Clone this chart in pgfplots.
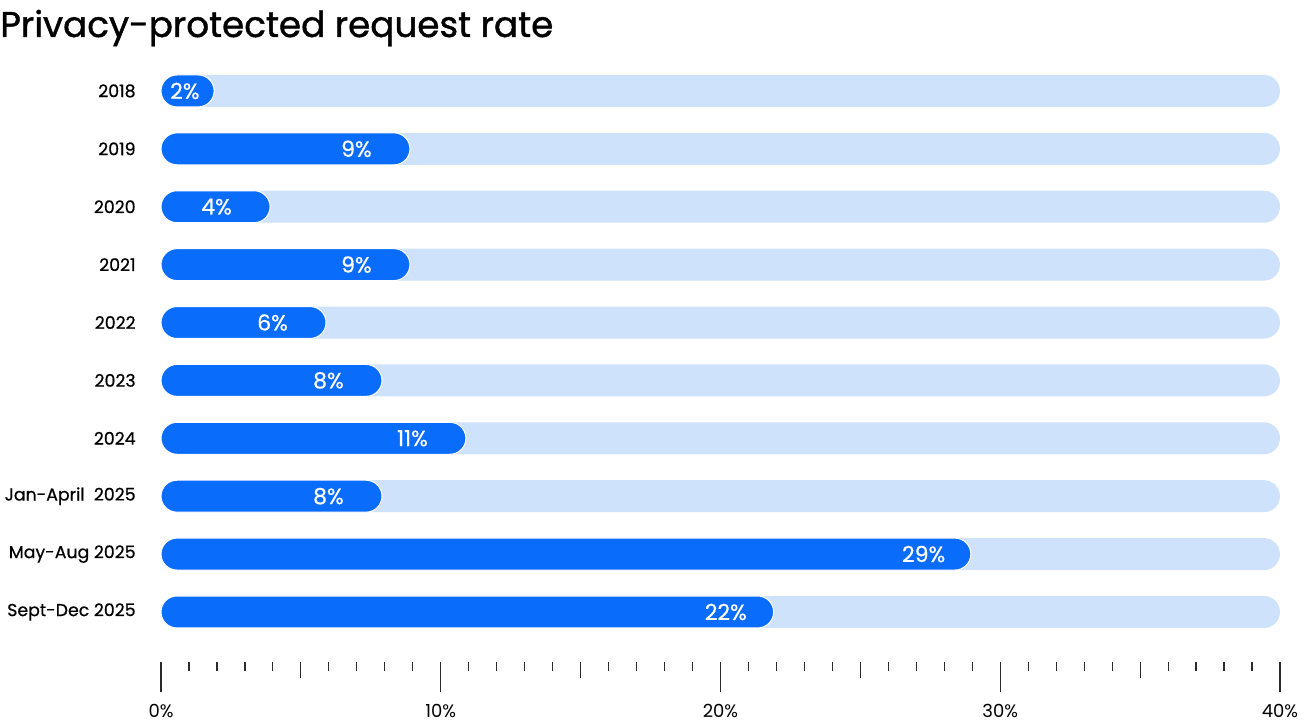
\documentclass[border=0pt]{standalone}
\usepackage{pgfplots}
\usepackage{pgfplotstable}
\pgfplotsset{compat=1.18}
\usepackage{fontspec}
\setmainfont{Poppins}
\newfontfamily\titlefont{Poppins}[FakeBold=1.2]
\newfontfamily\labelfont{Poppins}[FakeBold=0.6]

\definecolor{barblue}{HTML}{0A6CFA}
\definecolor{barbg}{HTML}{CFE2FC}
\definecolor{tickgray}{HTML}{2A2A2A}

% y: 9 = 2018 (top) ... 0 = Sept-Dec 2025 (bottom)
\pgfplotstableread{
y  val    lx     lab
9  1.9    0.32   2
8  8.9    6.43   9
7  3.9    1.43   4
6  8.9    6.43   9
5  5.9    3.43   6
4  7.9    5.43   8
3  10.9   8.43   11
2  7.9    5.43   8
1  28.95  26.48  29
0  21.9   19.43  22
}\ratetable

\begin{document}
\begin{tikzpicture}
\begin{axis}[
    name=ax,
    scale only axis,
    width=839.25pt,
    height=450pt,
    xmin=0, xmax=40,
    ymin=-0.864, ymax=9.5,
    clip=false,
    axis line style={draw=none},
    /pgf/number format/assume math mode=true,
    tick align=outside,
    xtick pos=bottom,
    ytick pos=left,
    xtick={0,10,20,30,40},
    xticklabel={\pgfmathprintnumber{\tick}\%},
    minor xtick={1,2,3,4,6,7,8,9,11,12,13,14,16,17,18,19,21,22,23,24,26,27,28,29,31,32,33,34,36,37,38,39},
    extra x ticks={5,15,25,35},
    extra x tick labels={},
    extra x tick style={major tick length=12pt},
    major tick length=22.5pt,
    minor tick length=6.75pt,
    x tick style={draw=tickgray, line width=0.9pt},
    xticklabel style={font=\fontsize{13.5}{16}\selectfont, text=black, yshift=-6pt},
    ytick={0,...,9},
    yticklabels={Sept-Dec 2025,May-Aug 2025,Jan-April\ \ 2025,2024,2023,2022,2021,2020,2019,2018},
    y tick style={draw=none},
    yticklabel style={font=\labelfont\fontsize{13}{16}\selectfont, text=black, anchor=east, xshift=7pt},
]
\addplot[xbar, bar shift=0pt, bar width=24pt, fill=barbg, draw=none, rounded corners=12pt]
    coordinates {(40,0) (40,1) (40,2) (40,3) (40,4) (40,5) (40,6) (40,7) (40,8) (40,9)};
\addplot[xbar, bar shift=0pt, bar width=24pt, fill=barblue, draw=white, line width=0.8pt, rounded corners=12pt]
    table[x=val, y=y] {\ratetable};
\addplot[draw=none, mark=none, point meta=explicit,
    nodes near coords={\pgfmathprintnumber{\pgfplotspointmeta}\%},
    nodes near coords style={anchor=west, inner sep=0pt, text=white, font=\labelfont\fontsize{16.5}{18}\selectfont}]
    table[x=lx, y=y, meta=lab] {\ratetable};
\end{axis}
\node[anchor=base west, inner sep=0pt, font=\titlefont\fontsize{26.8}{32}\selectfont]
    at ([xshift=-120.75pt, yshift=468.75pt]ax.south west) {Privacy-protected request rate};
\path (ax.south west) ++(-120.75pt,-48.75pt) rectangle ++(980.25pt,545.25pt);
\end{tikzpicture}
\end{document}
